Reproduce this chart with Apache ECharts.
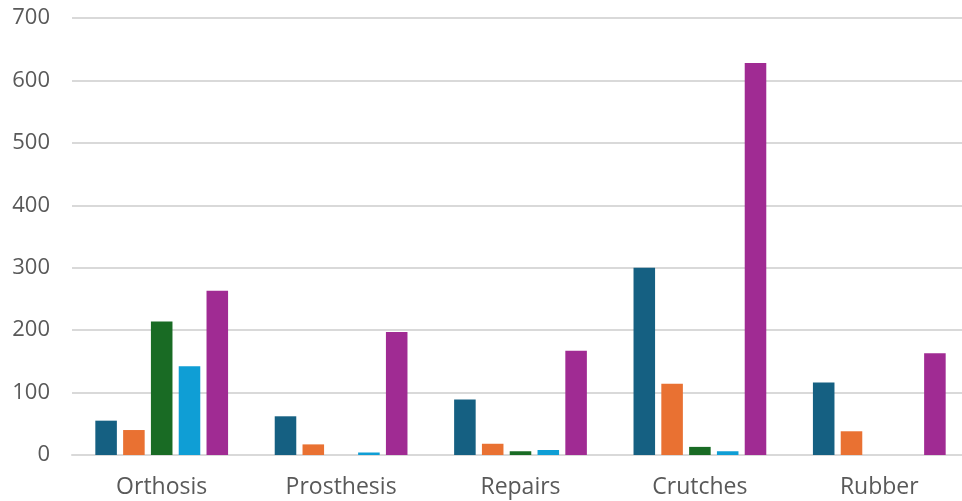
<!DOCTYPE html>
<html>
<head>
<meta charset="utf-8">
<script src="https://cdn.jsdelivr.net/npm/echarts@6/dist/echarts.min.js"></script>
<style>html,body{margin:0;padding:0;background:#fff;overflow:hidden;width:962px;height:501px;}#c{width:969px;height:501px;}</style>
</head>
<body>
<div id="c"></div>
<script>
var categories = ['Orthosis', 'Prosthesis', 'Repairs', 'Crutches', 'Rubber'];
var series1 = [55, 62, 89, 300, 116];
var series2 = [40, 17, 18, 114, 38];
var series3 = [214, 0, 6, 13, 0];
var series4 = [142, 4, 8, 6, 0];
var series5 = [263, 197, 167, 628, 163];
var colors = ['#156082', '#E97132', '#196B24', '#0F9ED5', '#A02B93'];
var yTicks = { min: 0, max: 700, interval: 100 };

var chart = echarts.init(document.getElementById('c'));
var data = [series1, series2, series3, series4, series5];
chart.setOption({
  animation: false,
  grid: { left: 72, right: 0, top: 18, bottom: 46, containLabel: false, outerBoundsMode: 'none' },
  xAxis: {
    type: 'category',
    data: categories,
    axisTick: { show: false },
    axisLine: { lineStyle: { color: '#d9d9d9', width: 2 } },
    axisLabel: { color: '#595959', fontSize: 23, fontFamily: 'Open Sans', margin: 21 }
  },
  yAxis: {
    type: 'value',
    min: yTicks.min, max: yTicks.max, interval: yTicks.interval,
    axisLine: { show: false },
    axisTick: { show: false },
    splitLine: { lineStyle: { color: '#d9d9d9', width: 2 } },
    axisLabel: { color: '#595959', fontSize: 22, fontFamily: 'Open Sans', margin: 22 }
  },
  series: data.map(function (d, i) {
    return {
      type: 'bar',
      data: d,
      barGap: '29%',
      barCategoryGap: '26%',
      itemStyle: { color: colors[i] }
    };
  })
});
</script>
</body>
</html>
